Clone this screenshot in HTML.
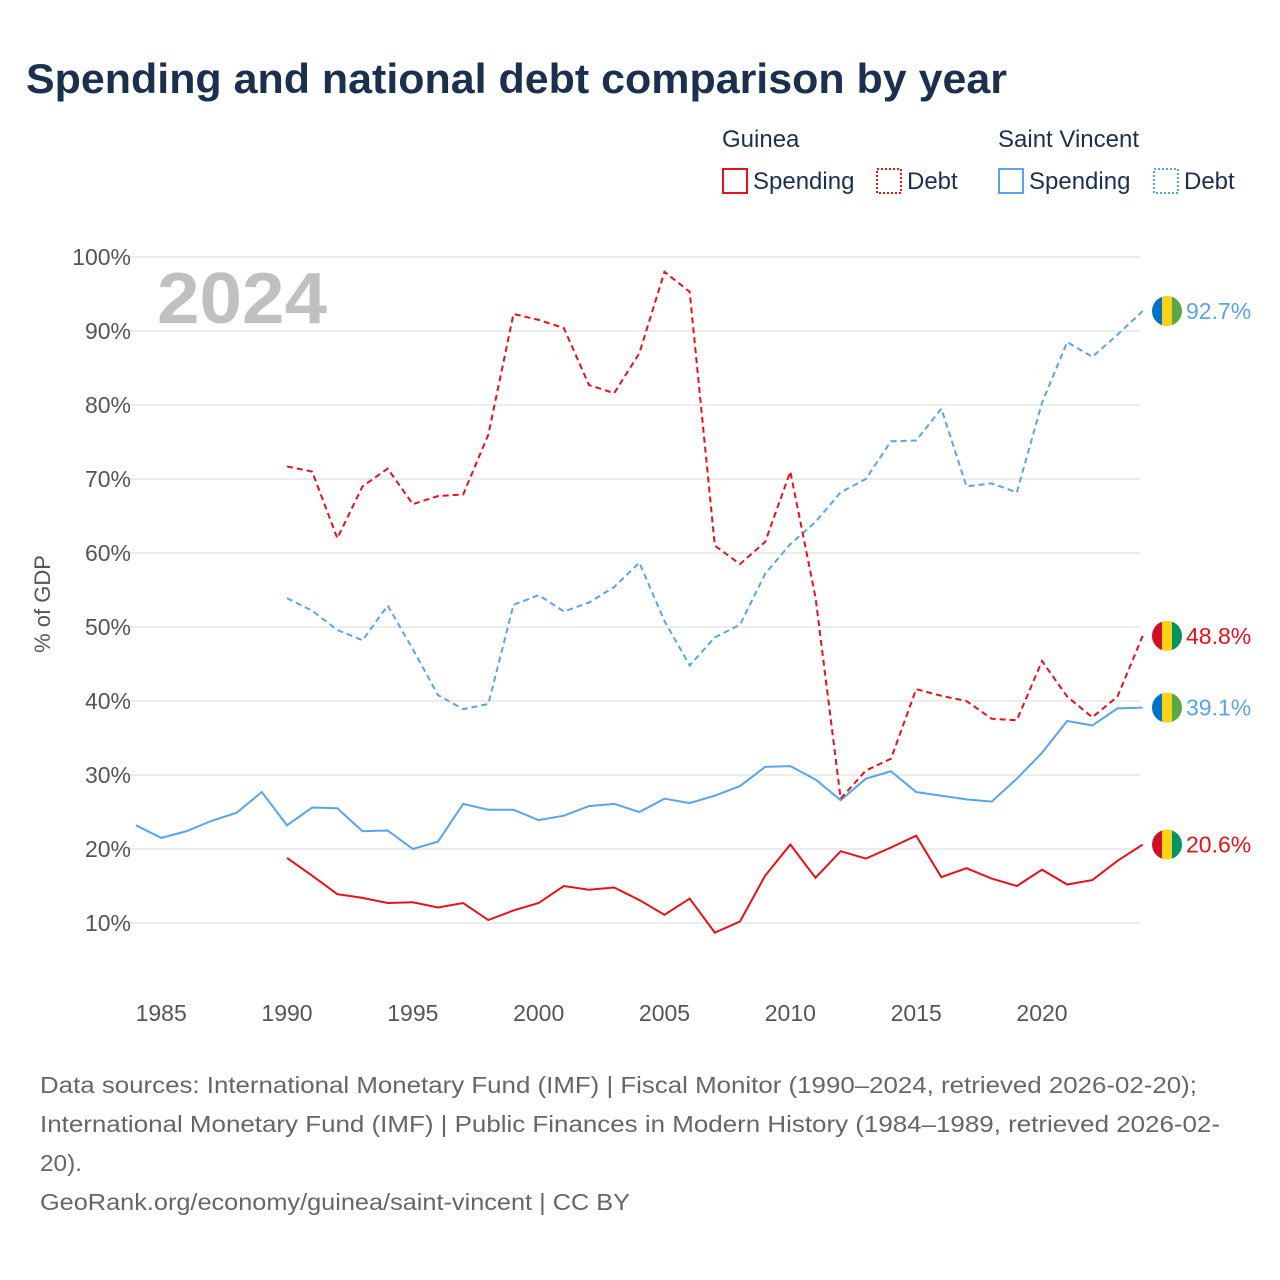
<!DOCTYPE html>
<html><head><meta charset="utf-8">
<style>
body{margin:0;background:#fff;font-family:"Liberation Sans",sans-serif;}
#wrap{position:relative;width:1280px;height:1280px;overflow:hidden;}
</style></head>
<body>
<div id="wrap">
<svg id="chart" width="1280" height="1280">
<text x="26" y="93" font-size="42" font-weight="bold" fill="#1b2f4e" textLength="981" lengthAdjust="spacingAndGlyphs">Spending and national debt comparison by year</text>
<g font-size="24" fill="#1b2f4e">
<text x="722" y="147">Guinea</text>
<text x="998" y="147">Saint Vincent</text>
<g><rect x="723" y="169" width="24" height="24" fill="none" stroke="#e8111a" stroke-width="2"/><text x="753" y="189">Spending</text></g>
<g><rect x="877" y="169" width="24" height="24" fill="none" stroke="#e8111a" stroke-width="2" stroke-dasharray="2,2"/><text x="907" y="189">Debt</text></g>
<g><rect x="999" y="169" width="24" height="24" fill="none" stroke="#5ba4ea" stroke-width="2"/><text x="1029" y="189">Spending</text></g>
<g><rect x="1154" y="169" width="24" height="24" fill="none" stroke="#5ba4ea" stroke-width="2" stroke-dasharray="2,2"/><text x="1184" y="189">Debt</text></g>
</g>
<text x="157" y="323" font-size="72" font-weight="bold" fill="#c0c0c0" textLength="170" lengthAdjust="spacingAndGlyphs">2024</text>
<text transform="translate(50,604) rotate(-90)" text-anchor="middle" font-size="22" fill="#555">% of GDP</text>
<g id="grid"></g><g id="ylabels"></g><g id="xlabels"></g><g id="lines"></g><g id="ends"></g>
<g font-size="23.5" fill="#666">
<text x="40" y="1093" textLength="1157" lengthAdjust="spacingAndGlyphs">Data sources: International Monetary Fund (IMF) | Fiscal Monitor (1990–2024, retrieved 2026-02-20);</text>
<text x="40" y="1132" textLength="1180" lengthAdjust="spacingAndGlyphs">International Monetary Fund (IMF) | Public Finances in Modern History (1984–1989, retrieved 2026-02-</text>
<text x="40" y="1171" textLength="42" lengthAdjust="spacingAndGlyphs">20).</text>
<text x="40" y="1210" textLength="590" lengthAdjust="spacingAndGlyphs">GeoRank.org/economy/guinea/saint-vincent | CC BY</text>
</g>
</svg>
</div>
<script>
const yTicks=[10,20,30,40,50,60,70,80,90,100];
const xTicks=[1985,1990,1995,2000,2005,2010,2015,2020];
const guineaYears=[1990,1991,1992,1993,1994,1995,1996,1997,1998,1999,2000,2001,2002,2003,2004,2005,2006,2007,2008,2009,2010,2011,2012,2013,2014,2015,2016,2017,2018,2019,2020,2021,2022,2023,2024];
const guineaSpending=[18.8,16.4,13.9,13.4,12.7,12.8,12.1,12.7,10.4,11.7,12.7,15.0,14.5,14.8,13.1,11.1,13.3,8.7,10.2,16.4,20.6,16.1,19.7,18.7,20.2,21.8,16.2,17.4,16.0,15.0,17.2,15.2,15.8,18.4,20.6];
const guineaDebt=[71.7,71.0,62.0,69.0,71.4,66.6,67.7,67.9,76.0,92.3,91.5,90.4,82.7,81.6,87.0,98.0,95.3,61.0,58.5,61.5,71.0,54.0,26.8,30.6,32.2,41.6,40.7,40.0,37.6,37.4,45.4,40.6,37.8,40.6,48.8];
const svSpendYears=[1984,1985,1986,1987,1988,1989,1990,1991,1992,1993,1994,1995,1996,1997,1998,1999,2000,2001,2002,2003,2004,2005,2006,2007,2008,2009,2010,2011,2012,2013,2014,2015,2016,2017,2018,2019,2020,2021,2022,2023,2024];
const svSpending=[23.2,21.5,22.4,23.8,24.9,27.7,23.2,25.6,25.5,22.4,22.5,20.0,21.0,26.1,25.3,25.3,23.9,24.5,25.8,26.1,25.0,26.8,26.2,27.2,28.5,31.1,31.2,29.4,26.6,29.5,30.5,27.7,27.2,26.7,26.4,29.5,33.0,37.3,36.7,39.0,39.1];
const svDebtYears=guineaYears;
const svDebt=[53.9,52.2,49.6,48.2,52.9,47.0,40.8,38.9,39.6,53.0,54.3,52.1,53.3,55.4,58.7,50.8,44.8,48.6,50.3,57.2,61.2,64.2,68.2,70.0,75.1,75.2,79.5,69.0,69.4,68.2,80.3,88.5,86.5,89.5,92.7];

const NS="http://www.w3.org/2000/svg";
const X=y=>287+(y-1990)*25.167;
const Y=v=>997-v*7.4;
function mk(tag,attrs,parent){const e=document.createElementNS(NS,tag);for(const k in attrs)e.setAttribute(k,attrs[k]);document.getElementById(parent).appendChild(e);return e;}
yTicks.forEach(t=>{
  const l=mk('line',{x1:130,x2:1140,y1:Y(t),y2:Y(t),stroke:'#e6e6e6','stroke-width':1.5},'grid');
  
  
  const tx=mk('text',{x:131,y:Y(t)+8,'text-anchor':'end','font-size':23,fill:'#555'},'ylabels');
  tx.textContent=t+'%';
  
  
});
xTicks.forEach(t=>{
  const tx=mk('text',{x:X(t),y:1021,'text-anchor':'middle','font-size':23,fill:'#555'},'xlabels');
  tx.textContent=t;
  
  
});
function line(years,vals,color,dash,name){
  const p=mk('polyline',{points:years.map((y,i)=>X(y)+','+Y(vals[i])).join(' '),fill:'none',stroke:color,'stroke-width':2,'stroke-dasharray':dash},'lines');
  
  
}
line(svSpendYears,svSpending,'#5ba4ea','none','line-sv-spending');
line(svDebtYears,svDebt,'#5ba4ea','6,4','line-sv-debt');
line(guineaYears,guineaSpending,'#e8111a','none','line-guinea-spending');
line(guineaYears,guineaDebt,'#e8111a','6,4','line-guinea-debt');
function endLabel(v,color,flag,name){
  const cy=Y(v),cx=1167;
  const g=mk('g',{},'ends');
  
  
  const id='c'+name;
  const cp=document.createElementNS(NS,'clipPath');cp.setAttribute('id',id);
  const c=document.createElementNS(NS,'circle');c.setAttribute('cx',cx);c.setAttribute('cy',cy);c.setAttribute('r',15);cp.appendChild(c);g.appendChild(cp);
  const cols=flag==='gn'?['#ce1126','#fcd116','#009460']:['#0072c6','#fcd116','#58a845'];
  cols.forEach((col,i)=>{const r=document.createElementNS(NS,'rect');r.setAttribute('x',cx-15+i*10);r.setAttribute('y',cy-15);r.setAttribute('width',10.5);r.setAttribute('height',30);r.setAttribute('fill',col);r.setAttribute('clip-path','url(#'+id+')');g.appendChild(r);});
  const t=document.createElementNS(NS,'text');t.setAttribute('x',1186);t.setAttribute('y',cy+8);t.setAttribute('font-size',23);t.setAttribute('fill',color);t.textContent=v.toFixed(1)+'%';g.appendChild(t);
}
endLabel(svDebt[svDebt.length-1],'#5ba4ea','sv','end-label-sv-debt');
endLabel(guineaDebt[guineaDebt.length-1],'#e8111a','gn','end-label-guinea-debt');
endLabel(svSpending[svSpending.length-1],'#5ba4ea','sv','end-label-sv-spending');
endLabel(guineaSpending[guineaSpending.length-1],'#e8111a','gn','end-label-guinea-spending');
</script>
</body></html>
